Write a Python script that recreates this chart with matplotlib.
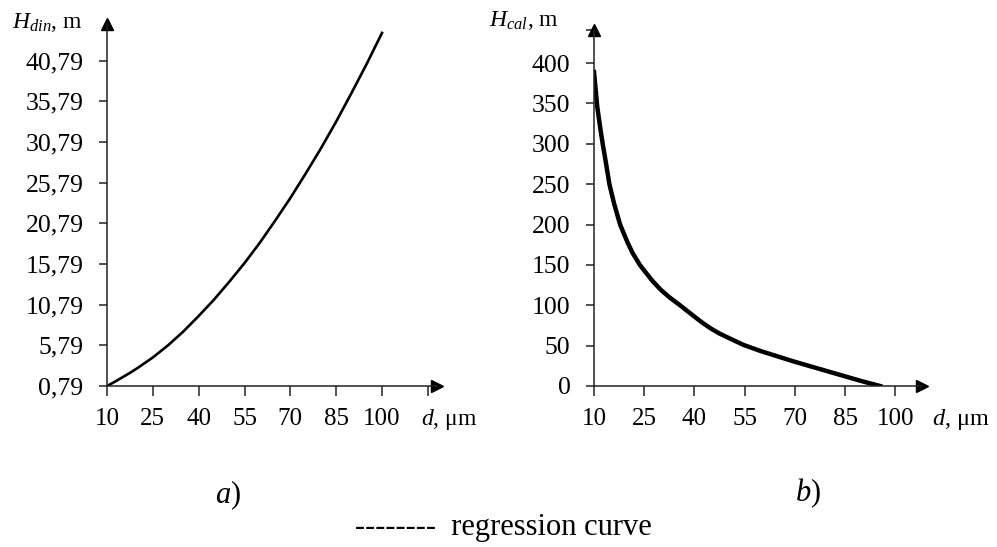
import matplotlib
matplotlib.use("Agg")
import matplotlib.pyplot as plt

# ---------------------------------------------------------------------------
# Data
# ---------------------------------------------------------------------------

# a) dynamic head vs particle size
D_A = [10, 12.5, 15, 17.5, 20, 25, 30, 35, 40, 45, 50, 55, 60, 65, 70, 75, 80, 85, 90, 95, 100]
H_DIN = [0.79, 1.3, 1.85, 2.4, 3.0, 4.3, 5.8, 7.5, 9.4, 11.4, 13.6, 15.9, 18.4, 21.1,
         23.9, 26.9, 30.0, 33.3, 36.8, 40.4, 44.2]

# b) calculated head vs particle size
D_B = [10, 10.5, 11, 12, 12.6, 13.5, 14.6, 16, 17.8, 20, 21.5, 23.7, 25, 27.5,
       30, 32.5, 35.7, 40, 42.5, 45, 47.5, 50, 54.6, 60, 65, 70, 75, 80, 85, 90, 95.5]
H_CAL = [389, 367, 345, 316, 300, 278, 250, 226, 200, 178, 165, 150, 143, 130,
         119, 110, 100, 86, 78, 71, 65, 60, 51, 43, 36.5, 30, 24, 18, 12, 6, 0]

X_TICKS = [10, 25, 40, 55, 70, 85, 100]
Y_TICKS_A = [0.79, 5.79, 10.79, 15.79, 20.79, 25.79, 30.79, 35.79, 40.79]
Y_TICKS_B = [0, 50, 100, 150, 200, 250, 300, 350, 400]

# ---------------------------------------------------------------------------
# Style
# ---------------------------------------------------------------------------

plt.rcParams["font.family"] = "Liberation Serif"
plt.rcParams["mathtext.fontset"] = "custom"
plt.rcParams["mathtext.rm"] = "Liberation Serif"
plt.rcParams["mathtext.it"] = "Liberation Serif:italic"
plt.rcParams["axes.unicode_minus"] = False

W, H = 997, 547
fig = plt.figure(figsize=(W / 100, H / 100), dpi=100)


def px_axes(x0, x1, y_bottom, y_top):
    """Axes box from pixel coordinates (origin top-left)."""
    return fig.add_axes([x0 / W, 1 - y_bottom / H, (x1 - x0) / W, (y_bottom - y_top) / H])


def style(ax):
    for side in ("top", "right"):
        ax.spines[side].set_visible(False)
    for side in ("left", "bottom"):
        ax.spines[side].set_linewidth(1.1)
        ax.spines[side].set_color("#222222")
    ax.tick_params(axis="y", direction="out", length=6, width=1.1, pad=11,
                   labelsize=18.5, color="#222222")
    ax.tick_params(axis="x", direction="out", length=7, width=1.1, pad=9,
                   labelsize=18, color="#222222")
    # arrow heads at the axis ends
    ax.plot(1, 0, ">", color="black", markersize=9, transform=ax.transAxes, clip_on=False)
    ax.plot(0, 1, "^", color="black", markersize=9, transform=ax.transAxes, clip_on=False)


# ---------------------------------------------------------------------------
# Panel a
# ---------------------------------------------------------------------------

ax_a = px_axes(107, 437, 386, 24)
ax_a.plot(D_A, H_DIN, color="black", linewidth=1.9, solid_joinstyle="round")
ax_a.set_xlim(10, 118)
ax_a.set_ylim(0.79, 45.3)
ax_a.set_xticks(X_TICKS + [115])
ax_a.set_xticklabels([str(t) for t in X_TICKS] + [""])
ax_a.set_yticks(Y_TICKS_A)
ax_a.set_yticklabels([f"{t:.2f}".replace(".", ",") for t in Y_TICKS_A])
style(ax_a)

# ---------------------------------------------------------------------------
# Panel b
# ---------------------------------------------------------------------------

ax_b = px_axes(594, 922, 386, 30)
ax_b.plot(D_B, H_CAL, color="black", linewidth=3.2, solid_joinstyle="round")
ax_b.set_xlim(10, 108)
ax_b.set_ylim(0, 441)
ax_b.set_xticks(X_TICKS)
ax_b.set_yticks(Y_TICKS_B + [441])
ax_b.set_yticklabels([str(t) for t in Y_TICKS_B] + [""])
style(ax_b)

# ---------------------------------------------------------------------------
# Axis titles, panel letters, caption
# ---------------------------------------------------------------------------

fig.text(12 / W, 1 - 28 / H, r"$H_{din}$, m", fontsize=17, ha="left", va="baseline")
fig.text(489 / W, 1 - 26 / H, r"$H_{cal}$, m", fontsize=17, ha="left", va="baseline")
fig.text(421 / W, 1 - 420 / H, r"$d$, μm", fontsize=17, ha="left", va="center")
fig.text(932 / W, 1 - 420 / H, r"$d$, μm", fontsize=17.5, ha="left", va="center")

fig.text(228 / W, 1 - 495 / H, r"$a$)", fontsize=22, ha="center", va="center")
fig.text(808 / W, 1 - 493 / H, r"$b$)", fontsize=22, ha="center", va="center")
fig.text(503 / W, 1 - 527 / H, "--------  regression curve", fontsize=22,
         ha="center", va="center")

fig.savefig("out.png", dpi=100, facecolor="white")
